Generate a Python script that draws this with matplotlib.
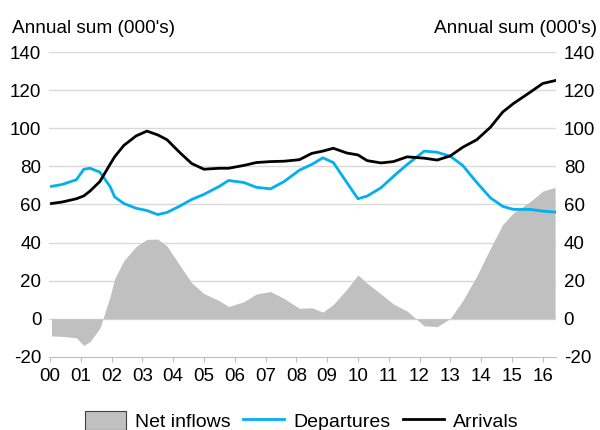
import numpy as np
import matplotlib
matplotlib.use("Agg")
import matplotlib.pyplot as plt

plt.rcParams['font.family'] = ['Liberation Sans', 'DejaVu Sans']
plt.rcParams['axes.unicode_minus'] = False

# time points (decimal years)
years = [2000.05, 2000.4, 2000.86, 2001.1, 2001.3, 2001.62, 2001.95, 2002.1, 2002.4,
         2002.8, 2003.15, 2003.5, 2003.8, 2004.2, 2004.6, 2005.0, 2005.5, 2005.8,
         2006.3, 2006.7, 2007.16, 2007.6, 2008.1, 2008.5, 2008.86, 2009.2, 2009.64,
         2010.0, 2010.3, 2010.75, 2011.15, 2011.6, 2012.15, 2012.57, 2013.0, 2013.4,
         2013.86, 2014.3, 2014.7, 2015.05, 2015.6, 2016.0, 2016.4]

arrivals = [60.5, 61.3, 63, 64.5, 67, 72, 81, 85, 91,
            96, 98.5, 96.5, 94, 87.5, 81.5, 78.5, 79, 79,
            80.5, 82, 82.5, 82.7, 83.5, 86.8, 88, 89.5, 87,
            86, 83, 81.8, 82.5, 85, 84.3, 83.3, 85.5, 90,
            94, 100.5, 108.5, 113, 119, 123.5, 125]

departures = [69.5, 70.5, 73, 78.5, 79, 77, 69.5, 64, 60.5,
              58, 56.8, 54.7, 55.8, 59, 62.6, 65.3, 69.5, 72.6,
              71.5, 69, 68.2, 72, 78, 81, 84.5, 82, 71.5,
              63, 64.4, 68.8, 74.7, 81, 88, 87.4, 85.3, 80.5,
              71.5, 63.5, 59, 57.4, 57.4, 56.5, 56]

# net inflows = arrivals - departures
net = np.array(arrivals) - np.array(departures)

tick_years = list(range(2000, 2017))
tick_labels = ["%02d" % (y - 2000) for y in tick_years]

fig = plt.figure(figsize=(6, 4.3), dpi=100)
ax = fig.add_axes([49 / 600, 0.170, 507 / 600, 0.709])

ax.fill_between(years, 0, net, color="#C0C0C0", linewidth=0, label="Net inflows", zorder=2)
ax.plot(years, departures, color="#00B0F0", linewidth=2, label="Departures", zorder=3)
ax.plot(years, arrivals, color="black", linewidth=2, label="Arrivals", zorder=4)

ax.set_xlim(1999.97, 2016.43)
ax.set_ylim(-20, 140)
ax.set_yticks(range(-20, 141, 20))
ax.set_xticks(tick_years)
ax.set_xticklabels(tick_labels)

# gridlines
for v in range(0, 141, 20):
    ax.axhline(v, color="#D9D9D9", linewidth=1, zorder=1)

for s in ["top", "left", "right"]:
    ax.spines[s].set_visible(False)
ax.spines["bottom"].set_color("#BFBFBF")

ax.tick_params(axis="y", left=False, right=False, length=0, labelleft=True, labelright=True,
               labelsize=13.5, pad=5.5)
ax.tick_params(axis="x", direction="out", length=3.5, color="#BFBFBF", labelsize=13.5, pad=4.5)

fig.text(12 / 600, 1 - 33 / 430, "Annual sum (000's)", fontsize=13.7, ha="left", va="baseline")
fig.text(597 / 600, 1 - 33 / 430, "Annual sum (000's)", fontsize=13.7, ha="right", va="baseline")

handles, labels = ax.get_legend_handles_labels()
leg = fig.legend(handles, labels, loc="center", bbox_to_anchor=(0.503, 1 - 421 / 430), ncol=3,
                 frameon=False, fontsize=14, handlelength=2.1, handleheight=1.1,
                 columnspacing=0.67, handletextpad=0.46, borderpad=0)
leg.legend_handles[0].set_edgecolor("#404040")
leg.legend_handles[0].set_linewidth(0.8)

fig.savefig("out.png", dpi=100)
